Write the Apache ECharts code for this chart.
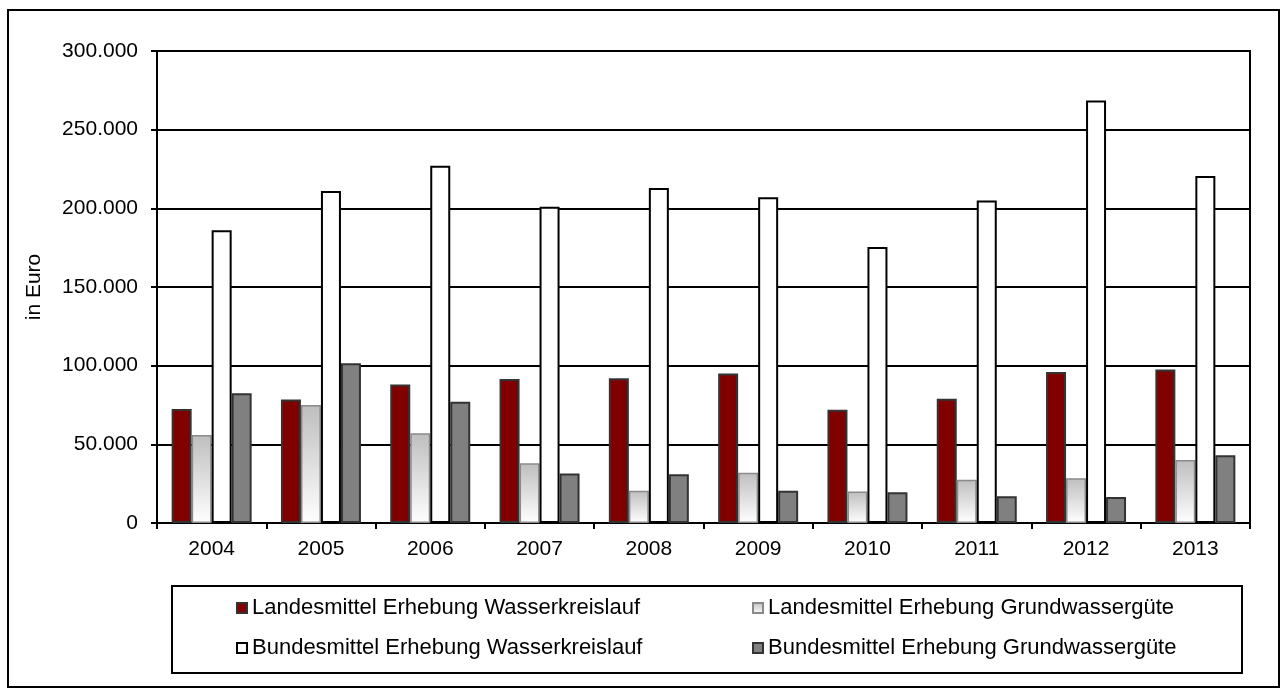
<!DOCTYPE html>
<html>
<head>
<meta charset="utf-8">
<script src="https://cdn.jsdelivr.net/npm/echarts@6/dist/echarts.min.js"></script>
<style>
  html, body { margin: 0; padding: 0; background: #fff; }
  #chart { width: 1286px; height: 693px; }
</style>
</head>
<body>
<div id="chart"></div>
<script>
// Jahre (x-Achse)
var years = ['2004', '2005', '2006', '2007', '2008', '2009', '2010', '2011', '2012', '2013'];

// Werte in Euro
var landWasser  = [72500, 78500, 88000, 91500, 92000, 95000, 72000, 79000, 96000, 97500];
var landGrund   = [56000, 75000, 57000, 38000, 20500, 32000, 20000, 27500, 28500, 40000];
var bundWasser  = [186000, 211000, 227000, 201000, 213000, 207000, 175500, 205000, 268500, 220500];
var bundGrund   = [82500, 101500, 77000, 31500, 31000, 20500, 19500, 17000, 16500, 43000];

var seriesNames = [
    'Landesmittel Erhebung Wasserkreislauf',
    'Landesmittel Erhebung Grundwassergüte',
    'Bundesmittel Erhebung Wasserkreislauf',
    'Bundesmittel Erhebung Grundwassergüte'
];

var yTicks = { min: 0, max: 300000, interval: 50000 };

var FONT = 'Liberation Sans, Arial, sans-serif';

// 300000 -> "300.000"
function fmt(v) {
    return String(v).replace(/\B(?=(\d{3})+(?!\d))/g, '.');
}

function legendAt(name, left, top) {
    return {
        data: [name],
        left: left, top: top,
        padding: 0,
        icon: 'rect',
        itemWidth: 10, itemHeight: 10,
        selectedMode: false,
        textStyle: { fontFamily: FONT, fontSize: 22, lineHeight: 22, color: '#000' }
    };
}

var chart = echarts.init(document.getElementById('chart'));

chart.setOption({
    animation: false,
    backgroundColor: '#fff',
    textStyle: { fontFamily: FONT },
    grid: {
        left: 157, right: 36, top: 51, bottom: 170,
        show: true, borderColor: '#000', borderWidth: 2
    },
    legend: [
        legendAt(seriesNames[0], 236, 597),
        legendAt(seriesNames[1], 752, 597),
        legendAt(seriesNames[2], 236, 637),
        legendAt(seriesNames[3], 752, 637)
    ],
    xAxis: {
        type: 'category',
        data: years,
        axisLine: { lineStyle: { color: '#000', width: 2 } },
        axisTick: { show: true, length: 6, lineStyle: { color: '#000', width: 2 } },
        axisLabel: { color: '#000', fontSize: 21, fontFamily: FONT, margin: 16 }
    },
    yAxis: {
        type: 'value',
        min: yTicks.min, max: yTicks.max, interval: yTicks.interval,
        name: 'in Euro',
        nameLocation: 'middle',
        nameRotate: 90,
        nameGap: 112,
        nameTextStyle: { color: '#000', fontSize: 21, fontFamily: FONT },
        axisLine: { show: true, lineStyle: { color: '#000', width: 2 } },
        axisTick: { show: true, length: 6, lineStyle: { color: '#000', width: 2 } },
        axisLabel: { color: '#000', fontSize: 21, fontFamily: FONT, margin: 19, formatter: fmt },
        splitLine: { show: true, lineStyle: { color: '#000', width: 2 } }
    },
    series: [
        {
            name: seriesNames[0], type: 'bar', data: landWasser,
            barWidth: 20, barGap: '0%',
            itemStyle: { color: '#800000', borderColor: '#333', borderWidth: 2 }
        },
        {
            name: seriesNames[1], type: 'bar', data: landGrund,
            barWidth: 20, barGap: '0%',
            itemStyle: {
                color: {
                    type: 'linear', x: 0, y: 0, x2: 0, y2: 1,
                    colorStops: [
                        { offset: 0, color: '#bebebe' },
                        { offset: 1, color: '#ffffff' }
                    ]
                },
                borderColor: '#8a8a8a', borderWidth: 1.5
            }
        },
        {
            name: seriesNames[2], type: 'bar', data: bundWasser,
            barWidth: 20, barGap: '0%',
            itemStyle: { color: '#fff', borderColor: '#000', borderWidth: 2 }
        },
        {
            name: seriesNames[3], type: 'bar', data: bundGrund,
            barWidth: 20, barGap: '0%',
            itemStyle: { color: '#808080', borderColor: '#333', borderWidth: 2 }
        }
    ],
    graphic: [
        // Rahmen um das ganze Diagramm
        {
            type: 'rect', silent: true, z: -1,
            shape: { x: 8, y: 10, width: 1271, height: 677 },
            style: { fill: null, stroke: '#000', lineWidth: 2 }
        },
        // Rahmen um die Legende
        {
            type: 'rect', silent: true, z: -1,
            shape: { x: 172, y: 586, width: 1070, height: 87 },
            style: { fill: null, stroke: '#000', lineWidth: 2 }
        }
    ]
});
</script>
</body>
</html>
